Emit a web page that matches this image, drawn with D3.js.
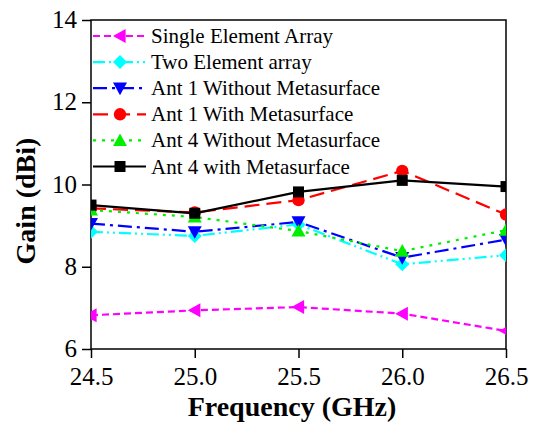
<!DOCTYPE html>
<html><head><meta charset="utf-8">
<script src="https://cdn.jsdelivr.net/npm/d3@7"></script>
</head><body style="margin:0">
<svg id="c" width="541" height="424"></svg>
<script>
const frequencies = [24.5, 25.0, 25.5, 26.0, 26.5];
const seriesNames = ["Single Element Array","Two Element array","Ant 1 Without Metasurface","Ant 1 With Metasurface","Ant 4 Without Metasurface","Ant 4 with Metasurface"];
const singleElement = [6.82, 6.94, 7.02, 6.86, 6.44];
const twoElement = [8.85, 8.75, 9.03, 8.06, 8.28];
const ant1Without = [9.05, 8.85, 9.09, 8.22, 8.66];
const ant1With = [9.42, 9.32, 9.62, 10.33, 9.27];
const ant4Without = [9.38, 9.21, 8.87, 8.38, 8.89];
const ant4With = [9.50, 9.30, 9.82, 10.10, 9.95];
const xTicks = [24.5, 25.0, 25.5, 26.0, 26.5];
const yTicks = [6, 8, 10, 12, 14];

const FONT = '"Times New Roman"';
const styles = [
  {color:"#ff00ff", dash:"7,4", marker:"tri-left"},
  {color:"#00ffff", dash:"12,4,2,4,2,4", marker:"diamond"},
  {color:"#0000ff", dash:"14,5,3,5", marker:"tri-down"},
  {color:"#ff0000", dash:"15,7", marker:"circle"},
  {color:"#00ee00", dash:"3,6", marker:"tri-up"},
  {color:"#000000", dash:null, marker:"square"}
];
const values = [singleElement, twoElement, ant1Without, ant1With, ant4Without, ant4With];

const svg = d3.select("#c");
const L=91, R=506, T=20, B=349;
const x = d3.scaleLinear().domain([24.5,26.5]).range([L,R]);
const y = d3.scaleLinear().domain([6,14]).range([B,T]);

svg.append("defs").append("clipPath").attr("id","clip").append("rect")
  .attr("x",L).attr("y",T).attr("width",R-L).attr("height",B-T);

function markerPath(type){
  const s=7;
  switch(type){
    case "tri-left": return `M${-s},0L${s*0.8},${-s}L${s*0.8},${s}Z`;
    case "tri-down": return `M${-s},${-s*0.8}L${s},${-s*0.8}L0,${s}Z`;
    case "tri-up": return `M${-s},${s*0.8}L${s},${s*0.8}L0,${-s}Z`;
    case "diamond": return `M0,${-s}L${s},0L0,${s}L${-s},0Z`;
    case "square": return `M-5.5,-5.5H5.5V5.5H-5.5Z`;
    case "circle": return d3.symbol(d3.symbolCircle, 120)();
  }
}

const xAxis = d3.axisBottom(x).tickValues(xTicks).tickFormat(d3.format(".1f")).tickSize(9).tickPadding(9);
const yAxis = d3.axisLeft(y).tickValues(yTicks).tickFormat(d3.format("d")).tickSize(9).tickPadding(5);
const gx = svg.append("g").attr("transform",`translate(0,${B})`).call(xAxis);
const gy = svg.append("g").attr("transform",`translate(${L},0)`).call(yAxis);
[gx,gy].forEach(g=>{
  g.attr("font-family",null).attr("font-size",null);
  g.select(".domain").remove();
  g.selectAll(".tick line").attr("stroke","#000").attr("stroke-width",1.5);
  g.selectAll(".tick text").style("font-family",FONT).style("font-size","25px").attr("fill","#000");
});
gy.selectAll(".tick text").attr("dy","0.3em");
svg.append("rect").attr("x",L).attr("y",T).attr("width",R-L).attr("height",B-T)
  .attr("fill","none").attr("stroke","#000").attr("stroke-width",1.5);

const plot = svg.append("g").attr("clip-path","url(#clip)");
values.forEach((vals,i)=>{
  const st=styles[i];
  const line=d3.line().x((d,j)=>x(frequencies[j])).y(d=>y(d));
  plot.append("path").datum(vals).attr("d",line).attr("fill","none")
    .attr("stroke",st.color).attr("stroke-width",2.2)
    .attr("stroke-dasharray",st.dash);
  plot.selectAll(null).data(vals).enter().append("path")
    .attr("d",markerPath(st.marker))
    .attr("transform",(d,j)=>`translate(${x(frequencies[j])},${y(d)})`)
    .attr("fill",st.color);
});

const lg = svg.append("g");
seriesNames.forEach((name,i)=>{
  const st=styles[i];
  const cy = 36 + i*26.1;
  lg.append("line").attr("x1",93).attr("x2",146).attr("y1",cy).attr("y2",cy)
    .attr("stroke",st.color).attr("stroke-width",2.2).attr("stroke-dasharray",st.dash);
  lg.append("path").attr("d",markerPath(st.marker)).attr("transform",`translate(120,${cy})`).attr("fill",st.color);
  lg.append("text").attr("x",151).attr("y",cy+7).style("font-family",FONT).style("font-size","21px").attr("fill","#000").text(name);
});

svg.append("text").attr("x",292).attr("y",416).attr("text-anchor","middle")
  .style("font-family",FONT).style("font-size","28px").style("font-weight","bold").text("Frequency (GHz)");
svg.append("text").attr("transform","translate(35,201) rotate(-90)").attr("text-anchor","middle")
  .style("font-family",FONT).style("font-size","28px").style("font-weight","bold").text("Gain (dBi)");
</script></body></html>
